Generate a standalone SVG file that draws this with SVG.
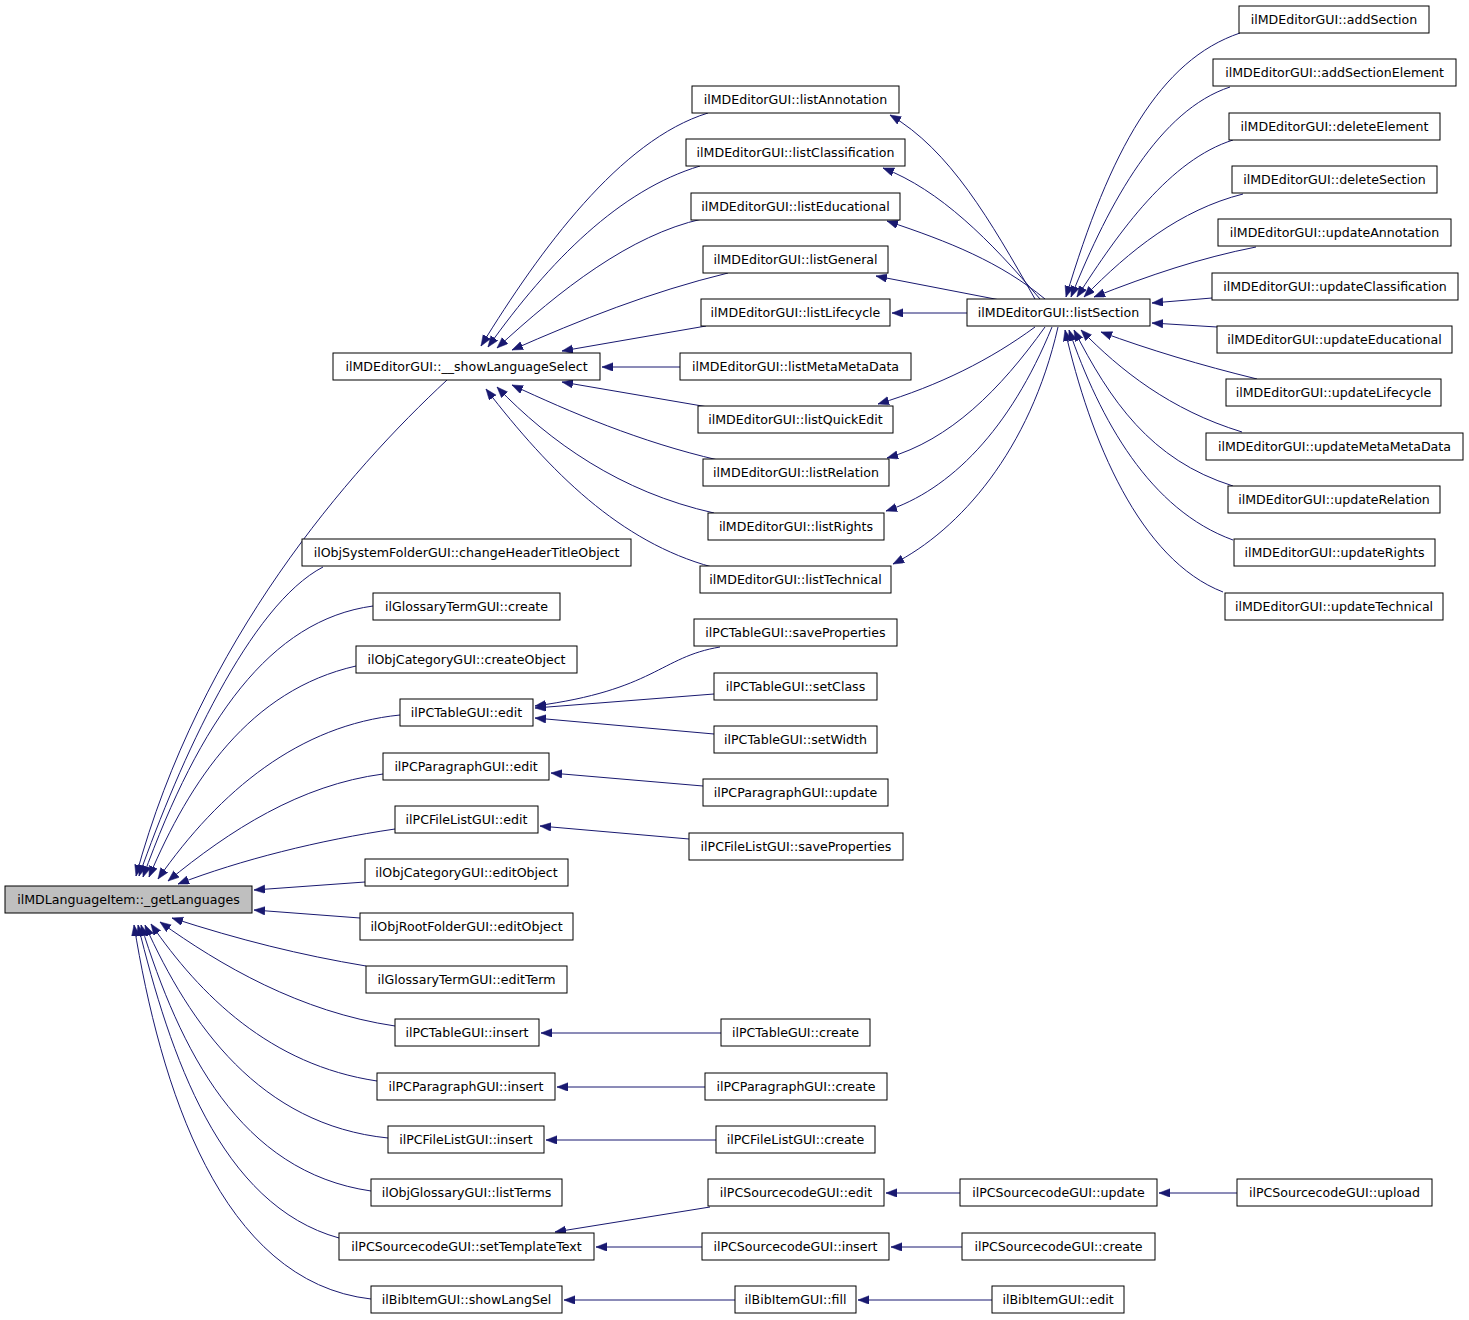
<svg xmlns="http://www.w3.org/2000/svg" width="1469" height="1320" viewBox="0 0 1469 1320">
<style>
.n rect{fill:#ffffff;stroke:#000000;stroke-width:1}
.n.root rect{fill:#bfbfbf}
.n text{font-family:"DejaVu Sans","Liberation Sans",sans-serif;font-size:12.6px;fill:#000000;text-anchor:middle}
#edges path{fill:none;stroke:#191970;stroke-width:1;marker-end:url(#ah)}
</style>
<defs>
<marker id="ah" markerUnits="userSpaceOnUse" markerWidth="13" markerHeight="10" refX="11" refY="4.25" orient="auto">
<path d="M0,0 L11,4.25 L0,8.5 z" fill="#191970" stroke="#191970" stroke-width="0.5"/>
</marker>
</defs>
<rect width="1469" height="1320" fill="#ffffff"/>
<g id="edges">
<path d="M447,380 C350,470 200,640 136,876"/>
<path d="M323,567 C250,605 180,760 139,876"/>
<path d="M373,606 C270,620 200,720 143,877"/>
<path d="M356,666 C250,690 190,780 149,877"/>
<path d="M400,715 C300,725 220,790 158,879"/>
<path d="M383,774 C300,785 230,830 168,881"/>
<path d="M395,829 C320,840 240,860 178,884"/>
<path d="M365,882 L254,890"/>
<path d="M360,918 L254,910"/>
<path d="M366,966 C300,955 240,940 172,918"/>
<path d="M395,1026 C300,1012 220,965 160,922"/>
<path d="M377,1081 C270,1065 200,995 151,924"/>
<path d="M388,1138 C260,1125 190,1025 145,925"/>
<path d="M371,1191 C240,1172 180,1050 141,925"/>
<path d="M339,1238 C220,1205 170,1055 138,925"/>
<path d="M371,1299 C220,1282 160,1085 134,925"/>
<path d="M708,113 C620,140 540,250 481,346"/>
<path d="M700,166 C620,190 550,260 488,347"/>
<path d="M702,219 C630,235 560,290 497,348"/>
<path d="M728,273 C650,292 580,320 512,350"/>
<path d="M706,326 L562,351"/>
<path d="M680,367 L602,367"/>
<path d="M708,407 L562,382"/>
<path d="M718,460 C640,442 570,412 512,385"/>
<path d="M714,513 C620,492 550,442 497,387"/>
<path d="M712,567 C620,542 550,472 486,389"/>
<path d="M1035,299 C990,220 950,150 890,115"/>
<path d="M1040,299 C990,240 940,190 883,168"/>
<path d="M1045,299 C1000,262 950,242 887,221"/>
<path d="M1000,300 L876,276"/>
<path d="M967,313 L892,313"/>
<path d="M1035,327 C990,360 940,385 878,404"/>
<path d="M1045,327 C1000,390 950,440 887,458"/>
<path d="M1052,327 C1010,430 950,490 886,511"/>
<path d="M1058,327 C1030,450 960,530 893,564"/>
<path d="M1240,33 C1160,60 1110,150 1066,297"/>
<path d="M1230,87 C1160,110 1110,200 1071,297"/>
<path d="M1233,140 C1170,160 1120,230 1077,297"/>
<path d="M1243,194 C1180,210 1130,250 1084,297"/>
<path d="M1256,247 C1200,258 1150,275 1094,297"/>
<path d="M1212,298 L1152,303"/>
<path d="M1217,327 L1152,323"/>
<path d="M1257,379 C1200,365 1150,350 1101,332"/>
<path d="M1242,432 C1170,410 1120,370 1081,330"/>
<path d="M1233,486 C1150,460 1110,400 1074,330"/>
<path d="M1233,540 C1150,510 1100,420 1069,330"/>
<path d="M1223,592 C1140,560 1090,440 1065,330"/>
<path d="M720,647 C660,657 655,690 535,706"/>
<path d="M714,694 L535,708"/>
<path d="M714,734 L535,718"/>
<path d="M703,786 L551,773"/>
<path d="M689,839 L540,826"/>
<path d="M721,1033 L541,1033"/>
<path d="M705,1087 L557,1087"/>
<path d="M716,1140 L546,1140"/>
<path d="M710,1207 L555,1232"/>
<path d="M702,1247 L596,1247"/>
<path d="M735,1300 L564,1300"/>
<path d="M960,1193 L886,1193"/>
<path d="M962,1247 L891,1247"/>
<path d="M992,1300 L858,1300"/>
<path d="M1237,1193 L1159,1193"/>
</g>
<g id="n0" class="n root"><rect x="5" y="886" width="247" height="27"/><text x="128.5" y="904">ilMDLanguageItem::_getLanguages</text></g>
<g id="n1" class="n"><rect x="333" y="353" width="267" height="27"/><text x="466.5" y="371">ilMDEditorGUI::__showLanguageSelect</text></g>
<g id="n2" class="n"><rect x="302" y="539" width="329" height="27"/><text x="466.5" y="557">ilObjSystemFolderGUI::changeHeaderTitleObject</text></g>
<g id="n3" class="n"><rect x="373" y="593" width="187" height="27"/><text x="466.5" y="611">ilGlossaryTermGUI::create</text></g>
<g id="n4" class="n"><rect x="356" y="646" width="221" height="27"/><text x="466.5" y="664">ilObjCategoryGUI::createObject</text></g>
<g id="n5" class="n"><rect x="400" y="699" width="133" height="27"/><text x="466.5" y="717">ilPCTableGUI::edit</text></g>
<g id="n6" class="n"><rect x="383" y="753" width="166" height="27"/><text x="466" y="771">ilPCParagraphGUI::edit</text></g>
<g id="n7" class="n"><rect x="395" y="806" width="143" height="27"/><text x="466.5" y="824">ilPCFileListGUI::edit</text></g>
<g id="n8" class="n"><rect x="365" y="859" width="203" height="27"/><text x="466.5" y="877">ilObjCategoryGUI::editObject</text></g>
<g id="n9" class="n"><rect x="360" y="913" width="213" height="27"/><text x="466.5" y="931">ilObjRootFolderGUI::editObject</text></g>
<g id="n10" class="n"><rect x="366" y="966" width="201" height="27"/><text x="466.5" y="984">ilGlossaryTermGUI::editTerm</text></g>
<g id="n11" class="n"><rect x="395" y="1019" width="144" height="27"/><text x="467" y="1037">ilPCTableGUI::insert</text></g>
<g id="n12" class="n"><rect x="377" y="1073" width="178" height="27"/><text x="466" y="1091">ilPCParagraphGUI::insert</text></g>
<g id="n13" class="n"><rect x="388" y="1126" width="156" height="27"/><text x="466" y="1144">ilPCFileListGUI::insert</text></g>
<g id="n14" class="n"><rect x="371" y="1179" width="191" height="27"/><text x="466.5" y="1197">ilObjGlossaryGUI::listTerms</text></g>
<g id="n15" class="n"><rect x="339" y="1233" width="255" height="27"/><text x="466.5" y="1251">ilPCSourcecodeGUI::setTemplateText</text></g>
<g id="n16" class="n"><rect x="371" y="1286" width="191" height="27"/><text x="466.5" y="1304">ilBibItemGUI::showLangSel</text></g>
<g id="n17" class="n"><rect x="692" y="86" width="207" height="27"/><text x="795.5" y="104">ilMDEditorGUI::listAnnotation</text></g>
<g id="n18" class="n"><rect x="686" y="139" width="219" height="27"/><text x="795.5" y="157">ilMDEditorGUI::listClassification</text></g>
<g id="n19" class="n"><rect x="691" y="193" width="209" height="27"/><text x="795.5" y="211">ilMDEditorGUI::listEducational</text></g>
<g id="n20" class="n"><rect x="703" y="246" width="185" height="27"/><text x="795.5" y="264">ilMDEditorGUI::listGeneral</text></g>
<g id="n21" class="n"><rect x="701" y="299" width="189" height="27"/><text x="795.5" y="317">ilMDEditorGUI::listLifecycle</text></g>
<g id="n22" class="n"><rect x="680" y="353" width="231" height="27"/><text x="795.5" y="371">ilMDEditorGUI::listMetaMetaData</text></g>
<g id="n23" class="n"><rect x="698" y="406" width="195" height="27"/><text x="795.5" y="424">ilMDEditorGUI::listQuickEdit</text></g>
<g id="n24" class="n"><rect x="703" y="459" width="186" height="27"/><text x="796" y="477">ilMDEditorGUI::listRelation</text></g>
<g id="n25" class="n"><rect x="708" y="513" width="176" height="27"/><text x="796" y="531">ilMDEditorGUI::listRights</text></g>
<g id="n26" class="n"><rect x="700" y="566" width="191" height="27"/><text x="795.5" y="584">ilMDEditorGUI::listTechnical</text></g>
<g id="n27" class="n"><rect x="694" y="619" width="203" height="27"/><text x="795.5" y="637">ilPCTableGUI::saveProperties</text></g>
<g id="n28" class="n"><rect x="714" y="673" width="163" height="27"/><text x="795.5" y="691">ilPCTableGUI::setClass</text></g>
<g id="n29" class="n"><rect x="714" y="726" width="163" height="27"/><text x="795.5" y="744">ilPCTableGUI::setWidth</text></g>
<g id="n30" class="n"><rect x="703" y="779" width="185" height="27"/><text x="795.5" y="797">ilPCParagraphGUI::update</text></g>
<g id="n31" class="n"><rect x="689" y="833" width="214" height="27"/><text x="796" y="851">ilPCFileListGUI::saveProperties</text></g>
<g id="n32" class="n"><rect x="721" y="1019" width="149" height="27"/><text x="795.5" y="1037">ilPCTableGUI::create</text></g>
<g id="n33" class="n"><rect x="705" y="1073" width="182" height="27"/><text x="796" y="1091">ilPCParagraphGUI::create</text></g>
<g id="n34" class="n"><rect x="716" y="1126" width="159" height="27"/><text x="795.5" y="1144">ilPCFileListGUI::create</text></g>
<g id="n35" class="n"><rect x="708" y="1179" width="176" height="27"/><text x="796" y="1197">ilPCSourcecodeGUI::edit</text></g>
<g id="n36" class="n"><rect x="702" y="1233" width="187" height="27"/><text x="795.5" y="1251">ilPCSourcecodeGUI::insert</text></g>
<g id="n37" class="n"><rect x="735" y="1286" width="121" height="27"/><text x="795.5" y="1304">ilBibItemGUI::fill</text></g>
<g id="n38" class="n"><rect x="967" y="299" width="183" height="27"/><text x="1058.5" y="317">ilMDEditorGUI::listSection</text></g>
<g id="n39" class="n"><rect x="960" y="1179" width="197" height="27"/><text x="1058.5" y="1197">ilPCSourcecodeGUI::update</text></g>
<g id="n40" class="n"><rect x="962" y="1233" width="193" height="27"/><text x="1058.5" y="1251">ilPCSourcecodeGUI::create</text></g>
<g id="n41" class="n"><rect x="992" y="1286" width="132" height="27"/><text x="1058" y="1304">ilBibItemGUI::edit</text></g>
<g id="n42" class="n"><rect x="1239" y="6" width="190" height="27"/><text x="1334" y="24">ilMDEditorGUI::addSection</text></g>
<g id="n43" class="n"><rect x="1213" y="59" width="243" height="27"/><text x="1334.5" y="77">ilMDEditorGUI::addSectionElement</text></g>
<g id="n44" class="n"><rect x="1229" y="113" width="211" height="27"/><text x="1334.5" y="131">ilMDEditorGUI::deleteElement</text></g>
<g id="n45" class="n"><rect x="1232" y="166" width="205" height="27"/><text x="1334.5" y="184">ilMDEditorGUI::deleteSection</text></g>
<g id="n46" class="n"><rect x="1218" y="219" width="233" height="27"/><text x="1334.5" y="237">ilMDEditorGUI::updateAnnotation</text></g>
<g id="n47" class="n"><rect x="1212" y="273" width="246" height="27"/><text x="1335" y="291">ilMDEditorGUI::updateClassification</text></g>
<g id="n48" class="n"><rect x="1217" y="326" width="235" height="27"/><text x="1334.5" y="344">ilMDEditorGUI::updateEducational</text></g>
<g id="n49" class="n"><rect x="1226" y="379" width="215" height="27"/><text x="1333.5" y="397">ilMDEditorGUI::updateLifecycle</text></g>
<g id="n50" class="n"><rect x="1206" y="433" width="257" height="27"/><text x="1334.5" y="451">ilMDEditorGUI::updateMetaMetaData</text></g>
<g id="n51" class="n"><rect x="1228" y="486" width="212" height="27"/><text x="1334" y="504">ilMDEditorGUI::updateRelation</text></g>
<g id="n52" class="n"><rect x="1234" y="539" width="201" height="27"/><text x="1334.5" y="557">ilMDEditorGUI::updateRights</text></g>
<g id="n53" class="n"><rect x="1225" y="593" width="218" height="27"/><text x="1334" y="611">ilMDEditorGUI::updateTechnical</text></g>
<g id="n54" class="n"><rect x="1237" y="1179" width="195" height="27"/><text x="1334.5" y="1197">ilPCSourcecodeGUI::upload</text></g>
</svg>
